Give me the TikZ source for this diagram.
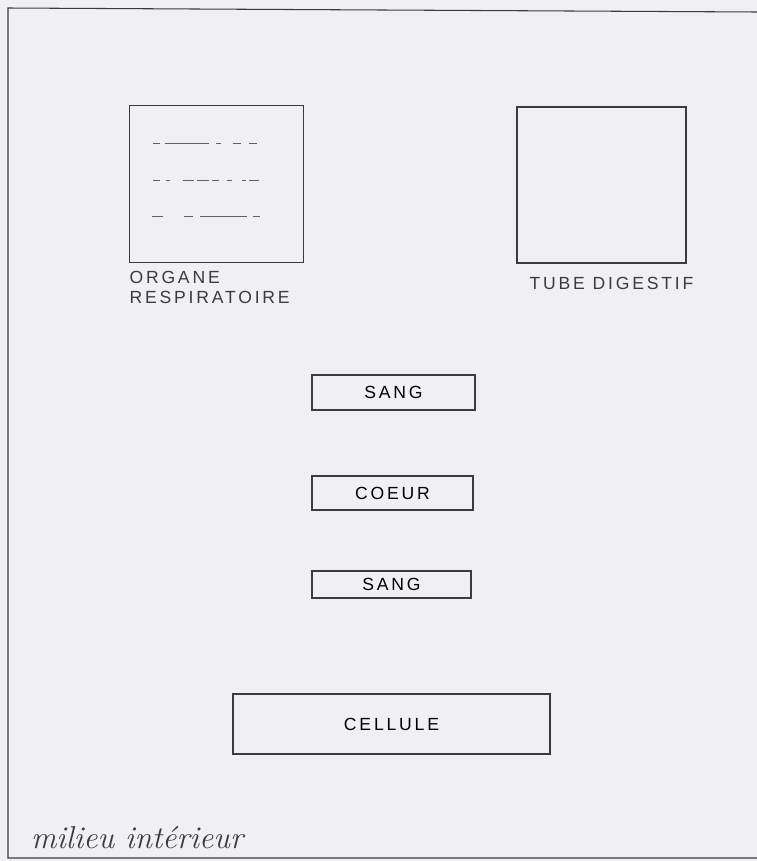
\documentclass[tikz,border=0pt]{standalone}
\usepackage{fontspec}
\newfontfamily\handfont{Liberation Sans}[LetterSpace=16]
\usetikzlibrary{positioning}
\definecolor{paper}{RGB}{240,239,244}
\definecolor{pencil}{RGB}{60,58,62}

\begin{document}
\begin{tikzpicture}[
    x=0.03cm, y=-0.03cm,
    node distance=0.2cm,
    box/.style={draw=pencil, rectangle, line width=0.9pt, font=\handfont\fontsize{15}{17}\selectfont},
    organ/.style={box, minimum width=5.2cm, minimum height=4.7cm},
    label/.style={font=\handfont\fontsize{15}{17}\selectfont, text=pencil, inner sep=0pt},
    breath/.style={pencil!80, line width=0.6pt}
]
\fill[paper] (0,0) rectangle (757,861);
\useasboundingbox (0,0) rectangle (757,861);
% frame of the sheet
\draw[pencil, line width=0.9pt] (757,12) -- (8,8) -- (8,858) -- (757,858);

% organs
\node[organ] (resp) at (216.5,184) {};
\node[organ, minimum width=5.07cm, minimum height=4.68cm] (tube) at (601.5,185) {};
\node[label, align=left, below=0.25cm of resp.south west, anchor=north west] (resplbl) {ORGANE\\RESPIRATOIRE};
\node[label, below=0.4cm of tube.south, xshift=0.3cm] (tubelbl) {TUBE DIGESTIF};

% dashed lines in the lung box
\draw[breath, dash pattern=on 6pt off 4pt on 38pt off 6pt on 4pt off 10pt on 7pt off 7pt on 7pt off 20pt] (153,143) -- (259,143);
\draw[breath, dash pattern=on 6pt off 5pt on 3.4pt off 11pt on 10pt off 2.5pt on 10pt off 2.5pt on 6pt off 7pt on 4pt off 8.5pt on 3.4pt off 2.5pt on 8.5pt off 20pt] (153,180) -- (260,180);
\draw[breath, dash pattern=on 9pt off 18pt on 8pt off 6pt on 40pt off 5pt on 6pt off 20pt] (152,216) -- (260,216);

% transport
\node[box, minimum width=4.89cm, minimum height=1.05cm] (sang1) at (393.5,392.5) {SANG};
\node[box, minimum width=4.83cm, minimum height=1.02cm] (coeur) at (392.5,493) {COEUR};
\node[box, minimum width=4.77cm, minimum height=0.81cm] (sang2) at (391.5,584.5) {SANG};
\node[box, minimum width=9.51cm, minimum height=1.8cm] (cellule) at (391.5,724) {CELLULE};

\node[font=\itshape\fontsize{27}{30}\selectfont, text=pencil, anchor=west] (milieu) at (27,838) {milieu intérieur};
\end{tikzpicture}
\end{document}
